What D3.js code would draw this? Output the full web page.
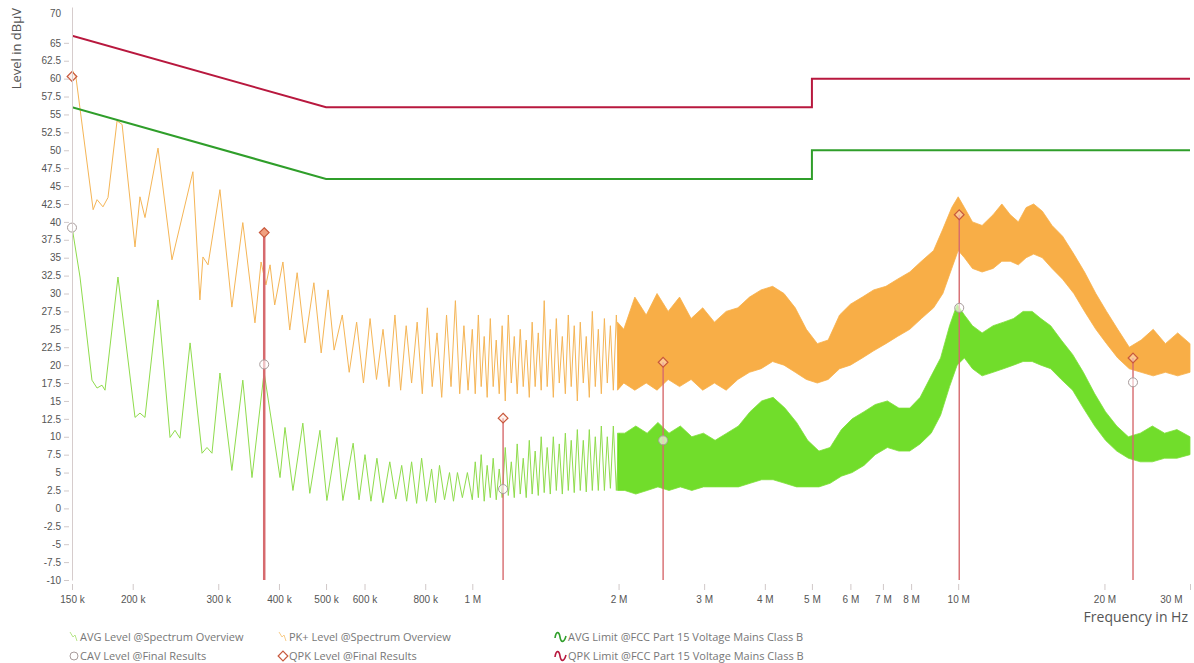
<!DOCTYPE html>
<html lang="en">
<meta charset="utf-8">
<title>Conducted Emissions - FCC Part 15</title>
<style>
  body { margin: 0; background: #ffffff; }
  svg { display: block; font-family: "Open Sans", "DejaVu Sans", sans-serif; }
</style>
<body>
<div id="chartDiv"></div>
<script src="https://d3js.org/d3.v7.min.js"></script>
<script>
// Frequencies are in kHz, levels in dBuV.
var xTickValues = [150, 200, 300, 400, 500, 600, 800, 1000, 2000, 3000, 4000, 5000, 6000, 7000, 8000, 10000, 20000, 30000];
var xTickLabels = ["150 k", "200 k", "300 k", "400 k", "500 k", "600 k", "800 k", "1 M", "2 M", "3 M", "4 M", "5 M", "6 M", "7 M", "8 M", "10 M", "20 M", "30 M"];
var yTickValues = [-10, -7.5, -5, -2.5, 0, 2.5, 5, 7.5, 10, 12.5, 15, 17.5, 20, 22.5, 25, 27.5, 30, 32.5, 35, 37.5, 40, 42.5, 45, 47.5, 50, 52.5, 55, 57.5, 60, 62.5, 65, 70];

// Limit lines
var qpkLimit = [[150, 66], [500, 56], [5000, 56], [5000, 60], [30000, 60]];
var avgLimit = [[150, 56], [500, 46], [5000, 46], [5000, 50], [30000, 50]];

// PK+ spectrum up to 2 MHz, peaks and valleys [kHz, dB]
var pkTrace = [[150, 61.3], [152.9, 60.1], [165.8, 41.7], [168.9, 43.1], [173.7, 42.1], [177.9, 43.4], [185.7, 54.1], [190.2, 53.6],
  [202.2, 36.5], [207, 43.5], [212, 40.6], [225.5, 50.3], [240.9, 34.7], [266, 47.0], [275, 29.1], [279, 35.1], [285.8, 34.0],
  [302.4, 44.5], [320, 28.1], [337, 39.9], [357, 25.9], [367.5, 34.4], [376, 31.2], [383.5, 34.0], [392, 28.4], [407.6, 34.4],
  [421, 24.9], [436, 32.9], [452.6, 23.1], [472, 31.5], [488.6, 21.7], [505, 30.5], [519.5, 22.1], [540, 27], [558, 19],
  [578, 26], [597, 17.5], [616, 26.5], [635, 18], [655, 25], [674, 17], [693, 27], [712, 16.5], [731, 25.5], [750, 17.5],
  [770, 26], [789, 16], [808, 28], [827, 17], [846, 24.5], [865, 15.5], [885, 27], [904, 17], [923, 29], [942, 16],
  [961, 25.5], [980, 16.5], [1000, 25], [1014, 16], [1029, 27], [1043, 17], [1058, 24], [1073, 15.5], [1089, 26.5],
  [1104, 17], [1120, 23.5], [1136, 16], [1152, 25.5], [1169, 15], [1186, 27], [1203, 17.5], [1220, 24], [1237, 16],
  [1255, 25], [1273, 17], [1291, 23.5], [1310, 15.5], [1328, 26], [1347, 17], [1367, 24.5], [1386, 16.5], [1406, 29],
  [1426, 17], [1447, 25], [1468, 15.5], [1489, 26.5], [1510, 17.5], [1532, 24], [1554, 16], [1576, 27], [1598, 17],
  [1621, 25.5], [1645, 15], [1668, 26], [1692, 17.5], [1716, 24], [1741, 15.5], [1766, 27.5], [1791, 17], [1817, 25],
  [1843, 16], [1870, 26.5], [1896, 17.5], [1924, 25.5], [1951, 16.5], [1979, 27], [2008, 17.5]];

// PK+ spectrum, dense part as a band [kHz, low, high]
var pkBand = [[1990, 16.5, 26], [2050, 17.5, 25], [2160, 16.5, 29.5], [2280, 17.5, 27], [2400, 16.5, 30],
  [2530, 18, 27.5], [2670, 17, 29.5], [2820, 18, 26.5], [2980, 16.5, 28], [3150, 17.5, 26], [3330, 16.5, 27.5],
  [3520, 18, 28], [3720, 19, 29.5], [3930, 19.5, 30.5], [4150, 20.5, 31], [4380, 20, 30], [4620, 19, 28],
  [4870, 18, 25], [5130, 17.5, 23], [5400, 18, 23.5], [5700, 19.5, 27], [6000, 20, 28.5], [6350, 21, 29.5],
  [6700, 22, 30.5], [7100, 23, 31], [7500, 24, 32], [7950, 25, 33], [8400, 26.5, 34.5], [8900, 28, 36],
  [9300, 30, 39], [9700, 33.5, 42], [10000, 36, 43.5], [10300, 35, 42], [10700, 33.5, 40], [11200, 33, 39.5],
  [11800, 33.5, 41], [12300, 34.5, 42.5], [12800, 34.5, 41], [13300, 34, 40], [13800, 35, 42], [14300, 35.5, 42.5],
  [14900, 35, 41.5], [15600, 33.5, 39.5], [16400, 32, 38], [17300, 30, 35.5], [18200, 27.5, 33], [19200, 25, 30],
  [20200, 23, 27.5], [21300, 21, 25], [22500, 19.5, 22.5], [23800, 19, 23.5], [25200, 18.5, 25], [26700, 19, 23],
  [28300, 18.5, 24.5], [30000, 19, 23]];

// AVG spectrum up to 2 MHz [kHz, dB]
var avgTrace = [[150, 39.3], [155.8, 32.3], [164.9, 17.9], [168.9, 16.8], [172.9, 17.2], [175.4, 16.5], [186.5, 32.3],
  [202.2, 12.7], [207, 13.3], [212, 12.7], [225.5, 29.1], [238.7, 9.9], [244.4, 10.9], [250.2, 9.8], [262.5, 23.1],
  [277.8, 7.7], [284.4, 8.5], [291.2, 7.7], [302.4, 18.9], [320, 5.3], [337, 17.9], [352, 4.3], [372.8, 19],
  [402, 4.3], [411.6, 11.3], [427.4, 2.5], [447.9, 11.9], [462.9, 2.1], [485.7, 10.9], [502, 1.1], [526.5, 9.9],
  [541.5, 1.1], [568.5, 9.1], [584.7, 1.2], [601.4, 7.5], [618.6, 1.0], [636.3, 7], [654.5, 0.8], [676.3, 6.5],
  [695.7, 1.3], [715.6, 6], [732.6, 1.0], [750, 6.5], [768, 0.7], [786.5, 7], [805, 1.0], [824.5, 5.5], [840, 0.8],
  [856, 6], [876.6, 1.2], [897.6, 5], [914.7, 1.0], [932, 5], [954, 1.5], [977, 5], [1000, 1.2], [1014, 6.5],
  [1029, 1.5], [1043, 7.5], [1058, 1.0], [1073, 6], [1089, 1.5], [1104, 7], [1120, 1.2], [1136, 5.5], [1152, 1.5],
  [1169, 8.5], [1186, 1.8], [1203, 6.5], [1220, 1.5], [1237, 9], [1255, 2], [1273, 7], [1291, 1.5], [1310, 9.5],
  [1328, 2], [1347, 8], [1367, 1.8], [1386, 10], [1406, 2.2], [1426, 8.5], [1447, 2], [1468, 10], [1489, 2.5],
  [1510, 9], [1532, 2], [1554, 10.5], [1576, 2.5], [1598, 9.5], [1621, 2.2], [1645, 11], [1668, 2.5], [1692, 9.5],
  [1716, 2.3], [1741, 11], [1766, 2.5], [1791, 10], [1817, 2.5], [1843, 11.5], [1870, 2.5], [1896, 10], [1924, 2.8],
  [1951, 11.5], [1979, 2.5], [2008, 10.5]];

// AVG spectrum, dense part as a band [kHz, low, high]
var avgBand = [[1990, 2.5, 10.5], [2060, 2.5, 10.5], [2170, 2, 11.5], [2290, 2.5, 10.5], [2410, 3, 12], [2540, 2.5, 10.5],
  [2680, 3, 11.5], [2830, 2.5, 10], [2990, 3, 10.5], [3160, 3, 9.5], [3340, 3, 10.5], [3530, 3, 11.5], [3730, 3.5, 13.5],
  [3940, 4, 15], [4160, 4, 15.5], [4400, 3.5, 14], [4650, 3, 12], [4900, 3, 9.5], [5170, 3, 8], [5450, 3.5, 8.5],
  [5750, 4.5, 11], [6050, 5, 12.5], [6400, 6, 13.5], [6750, 7.5, 14.5], [7150, 8.5, 15], [7550, 8, 14],
  [7950, 8, 14], [8350, 9, 15.5], [8800, 10.5, 18.5], [9200, 13, 21], [9600, 17, 25.5], [9950, 20, 28.5],
  [10300, 21, 27], [10700, 19.5, 25.5], [11200, 18.5, 24.5], [11800, 19, 25.5], [12400, 19.5, 26], [13000, 20, 26.5],
  [13600, 20.5, 27.5], [14200, 20.5, 27.5], [14800, 20, 26.5], [15500, 19.5, 25.5], [16300, 18, 23.5],
  [17200, 16.5, 21.5], [18100, 14, 19], [19100, 11.5, 16], [20100, 9.5, 13.5], [21200, 8, 11.5], [22400, 7, 10],
  [23700, 6.5, 10.5], [25100, 6.5, 11.5], [26600, 7, 10.5], [28200, 7, 11], [30000, 7.5, 10]];

// Final results
var finalFreqs = [150, 373, 1157, 2470, 10050, 22900];
var qpkValues = [60.3, 38.5, 12.6, 20.4, 41.0, 21.0];
var cavValues = [39.2, 20.1, 2.7, 9.5, 28.0, 17.6];

var legendLabels = [
  "AVG Level @Spectrum Overview", "PK+ Level @Spectrum Overview", "AVG Limit @FCC Part 15 Voltage Mains Class B",
  "CAV Level @Final Results", "QPK Level @Final Results", "QPK Limit @FCC Part 15 Voltage Mains Class B"];

var width = 1194, height = 663;
var svg = d3.select("#chartDiv").append("svg").attr("width", width).attr("height", height);

var x = d3.scaleLog().domain([150, 30000]).range([72, 1190]);
var y = d3.scaleLinear().domain([-10, 70]).range([580, 7]);

svg.append("clipPath").attr("id", "plotClip")
  .append("rect").attr("x", 72).attr("y", 0).attr("width", 1122).attr("height", 581);

var plot = svg.append("g").attr("clip-path", "url(#plotClip)");

var line = d3.line().x(d => x(d[0])).y(d => y(d[1]));
var band = d3.area().x(d => x(d[0])).y0(d => y(d[1])).y1(d => y(d[2]));

// Spectrum traces
plot.append("path").datum(avgTrace).attr("d", line)
  .attr("fill", "none").attr("stroke", "#8fdc4c").attr("stroke-width", 1);
plot.append("path").datum(avgBand).attr("d", band)
  .attr("fill", "#62d914").attr("fill-opacity", 0.9).attr("stroke", "#7ee03a").attr("stroke-width", 0.8);

plot.append("path").datum(pkTrace).attr("d", line)
  .attr("fill", "none").attr("stroke", "#f5b556").attr("stroke-width", 1);
plot.append("path").datum(pkBand).attr("d", band)
  .attr("fill", "#f7a533").attr("fill-opacity", 0.9).attr("stroke", "#f8b04a").attr("stroke-width", 0.8);

// Limit lines
plot.append("path").datum(qpkLimit).attr("d", line)
  .attr("fill", "none").attr("stroke", "#b8183e").attr("stroke-width", 2);
plot.append("path").datum(avgLimit).attr("d", line)
  .attr("fill", "none").attr("stroke", "#2f9e2a").attr("stroke-width", 2);

// Stems for the final results
plot.selectAll(".stem").data(finalFreqs).enter().append("line")
  .attr("class", "stem")
  .attr("x1", d => x(d)).attr("x2", d => x(d))
  .attr("y1", (d, i) => y(qpkValues[i])).attr("y2", y(-10))
  .attr("stroke", "#d66a6e").attr("stroke-width", (d, i) => i == 1 ? 2.5 : 1.4);

// CAV circles
svg.selectAll(".cav").data(finalFreqs).enter().append("circle")
  .attr("class", "cav")
  .attr("cx", d => x(d)).attr("cy", (d, i) => y(cavValues[i])).attr("r", 4.5)
  .attr("fill", "rgba(255,255,255,0.6)").attr("stroke", "#a89c9c").attr("stroke-width", 1);

// QPK diamonds
var diamond = d3.symbol().type(d3.symbolDiamond2).size(60);
svg.selectAll(".qpk").data(finalFreqs).enter().append("path")
  .attr("class", "qpk")
  .attr("d", diamond)
  .attr("transform", (d, i) => "translate(" + x(d) + "," + y(qpkValues[i]) + ")")
  .attr("fill", (d, i) => i == 1 ? "#f0a080" : "rgba(255,230,220,0.5)")
  .attr("stroke", "#c8583c").attr("stroke-width", 1.2);

// Y axis
var yAxis = d3.axisLeft(y).tickValues(yTickValues).tickSize(5).tickSizeOuter(0).tickPadding(6)
  .tickFormat(d => String(d));
var yAxisG = svg.append("g").attr("transform", "translate(72,0)").call(yAxis);
yAxisG.select(".domain").attr("stroke", "#d6cccc");
yAxisG.selectAll(".tick line").attr("stroke", "#d0c8c8").attr("transform", "translate(-3,0)");
yAxisG.selectAll(".tick text").attr("fill", "#555").style("font-size", "10px")
  .attr("dy", d => d == 70 ? "0.9em" : "0.32em");
yAxisG.selectAll(".tick").filter(d => d == 70).select("line").remove();

// X axis
var xAxis = d3.axisBottom(x).tickValues(xTickValues).tickSize(6).tickSizeOuter(0).tickPadding(6)
  .tickFormat((d, i) => xTickLabels[i]);
var xAxisG = svg.append("g").attr("transform", "translate(0,584)").call(xAxis);
xAxisG.select(".domain").remove();
xAxisG.selectAll(".tick line").attr("stroke", "#d0c8c8");
xAxisG.selectAll(".tick text").attr("fill", "#555").style("font-size", "10px");
// last label sits left of its tick so it stays inside the window
xAxisG.selectAll(".tick").filter(d => d == 30000).select("text")
  .attr("text-anchor", "end").attr("dx", "-8");

// Axis titles
svg.append("text").attr("transform", "translate(21,8) rotate(-90)")
  .attr("text-anchor", "end").attr("fill", "#555").style("font-size", "13px")
  .text("Level in dBµV");
svg.append("text").attr("x", 1188).attr("y", 622)
  .attr("text-anchor", "end").attr("fill", "#555").style("font-size", "14px")
  .text("Frequency in Hz");

// Legend
var legendX = [70, 279, 555];
var legendY = [637, 656];
var legend = svg.append("g").style("font-size", "11px");
legendLabels.forEach(function (label, i) {
  var col = i % 3, row = Math.floor(i / 3);
  var lx = legendX[col], ly = legendY[row];
  var g = legend.append("g").attr("transform", "translate(" + lx + "," + ly + ")");
  if (i == 0 || i == 1) {
    g.append("path").attr("d", "M0,-5 L3,0 L5,-2 L7,4")
      .attr("fill", "none").attr("stroke", i == 0 ? "#b8e68a" : "#f8cd8a").attr("stroke-width", 1);
  } else if (i == 3) {
    g.append("circle").attr("cx", 4).attr("cy", 0).attr("r", 4)
      .attr("fill", "none").attr("stroke", "#a89c9c");
  } else if (i == 4) {
    g.append("path").attr("d", diamond).attr("transform", "translate(4,0)")
      .attr("fill", "none").attr("stroke", "#c8583c").attr("stroke-width", 1.2);
  } else {
    g.append("path").attr("d", "M0,1 C1,-6 4,-6 5,0 S9,6 11,-1")
      .attr("fill", "none").attr("stroke", i == 2 ? "#2f9e2a" : "#b8183e").attr("stroke-width", 1.6);
  }
  g.append("text").attr("x", (i == 2 || i == 5) ? 13 : 10).attr("y", 0).attr("dy", "0.35em")
    .attr("fill", "#777").text(label);
});
</script>
</body>
</html>
